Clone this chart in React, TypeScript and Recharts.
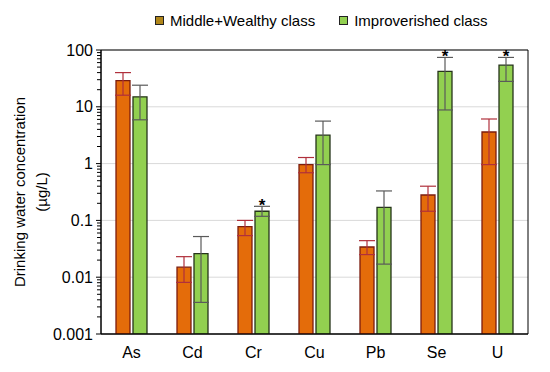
import React from 'react';
import {
  ComposedChart, Bar, Line, XAxis, YAxis, CartesianGrid, Legend, ErrorBar, ReferenceLine, ReferenceArea,
} from 'recharts';

const elements = ['As', 'Cd', 'Cr', 'Cu', 'Pb', 'Se', 'U'];

// Middle+Wealthy class: mean, lower and upper bound of the error bar
const wealthy = [29, 0.015, 0.078, 0.96, 0.034, 0.28, 3.6];
const wealthyLow = [16, 0.0081, 0.054, 0.69, 0.025, 0.145, 0.96];
const wealthyHigh = [40, 0.023, 0.1, 1.28, 0.044, 0.4, 6.1];

// Improverished class
const poor = [15, 0.026, 0.145, 3.16, 0.17, 42, 54];
const poorLow = [5.9, 0.0036, 0.118, 0.96, 0.017, 8.8, 28];
const poorHigh = [24, 0.052, 0.177, 5.6, 0.33, 74, 74];
const significant = [false, false, true, false, false, true, true];

const majorTicks = [0.001, 0.01, 0.1, 1, 10, 100];
const minorSteps = [2, 3, 4, 5, 6, 7, 8, 9];
const minorTicks = majorTicks.slice(0, -1).flatMap(d => minorSteps.map(m => +(d * m).toPrecision(3)));

const data = elements.map((name, i) => ({
  name,
  wealthy: wealthy[i],
  wealthyErr: [wealthy[i] - wealthyLow[i], wealthyHigh[i] - wealthy[i]],
  poor: poor[i],
  poorErr: [poor[i] - poorLow[i], poorHigh[i] - poor[i]],
  star: significant[i] ? poorHigh[i] : null,
}));

const FONT = '"Liberation Sans", Arial, sans-serif';
const BAR = 14;
const GAP = 3;

const LegendBox = () => (
  <div style={{ height: 23, display: 'flex', alignItems: 'center', paddingLeft: 155, fontFamily: FONT, fontSize: 15, color: '#000' }}>
    <span style={{ width: 7, height: 7, background: '#B0861A', border: '1px solid #222', marginRight: 6 }} />
    <span style={{ marginRight: 24 }}>Middle+Wealthy class</span>
    <span style={{ width: 7, height: 7, background: '#92D050', border: '1px solid #222', marginRight: 6 }} />
    <span>Improverished class</span>
  </div>
);

const YLabel = (props: any) => {
  const { viewBox } = props;
  const cy = viewBox.y + viewBox.height / 2;
  return (
    <g fontFamily={FONT} fontSize={15} fill="#000">
      <text x={19} y={cy} textAnchor="middle" dominantBaseline="central" transform={`rotate(-90, 19, ${cy})`}>
        Drinking water concentration
      </text>
      <text x={41} y={cy} textAnchor="middle" dominantBaseline="central" transform={`rotate(-90, 41, ${cy})`}>
        (µg/L)
      </text>
    </g>
  );
};

const MinorTick = (props: any) => (
  <line x1={props.x1 - 4} x2={props.x1} y1={props.y1} y2={props.y1} stroke="#000" strokeWidth={1} />
);

const Star = (props: any) => {
  const { cx, cy, value } = props;
  if (value == null || cy == null) return <g key={props.index} />;
  return (
    <text key={props.index} x={cx + (BAR + GAP) / 2} y={cy + 5} textAnchor="middle" fontFamily={FONT} fontSize={17} fontWeight="bold" fill="#000">
      *
    </text>
  );
};

export default function App() {
  return (
    <div style={{ position: 'absolute', left: 0, top: 0, background: '#fff' }}>
      <ComposedChart
        width={550}
        height={372}
        data={data}
        margin={{ top: 27, right: 22, left: 0, bottom: 0 }}
        barSize={BAR}
        barGap={GAP}
      >
        <Legend verticalAlign="top" content={<LegendBox />} wrapperStyle={{ top: 9, left: 0, width: 550 }} />
        <CartesianGrid vertical={false} stroke="#D9D9D9" />
        <XAxis
          dataKey="name"
          height={38}
          axisLine={{ stroke: '#000' }}
          tickLine={false}
          tickSize={6}
          tickMargin={7}
          tick={{ fill: '#000', fontSize: 16, fontFamily: FONT }}
        />
        <YAxis
          scale="log"
          domain={[0.001, 100]}
          allowDataOverflow
          ticks={majorTicks}
          width={101}
          axisLine={{ stroke: '#000' }}
          tickLine={{ stroke: '#000' }}
          tickSize={5}
          tickMargin={3}
          tickFormatter={(v: number) => String(v)}
          tick={{ fill: '#000', fontSize: 16, fontFamily: FONT }}
          label={<YLabel />}
        />
        {minorTicks.map(v => (
          <ReferenceLine key={v} y={v} shape={<MinorTick />} />
        ))}
        <ReferenceArea y1={0.001} y2={100} fill="none" stroke="#000" strokeWidth={1} />
        <Bar dataKey="wealthy" fill="#E46C0A" stroke="#7B1C0E" strokeWidth={1.3} isAnimationActive={false}>
          <ErrorBar dataKey="wealthyErr" direction="y" width={8} stroke="#B0303C" strokeWidth={1.2} />
        </Bar>
        <Bar dataKey="poor" fill="#92D050" stroke="#25331A" strokeWidth={1.3} isAnimationActive={false}>
          <ErrorBar dataKey="poorErr" direction="y" width={8} stroke="#5A5A5A" strokeWidth={1.2} />
        </Bar>
        <Line dataKey="star" stroke="none" dot={<Star />} activeDot={false} legendType="none" isAnimationActive={false} />
      </ComposedChart>
    </div>
  );
}
